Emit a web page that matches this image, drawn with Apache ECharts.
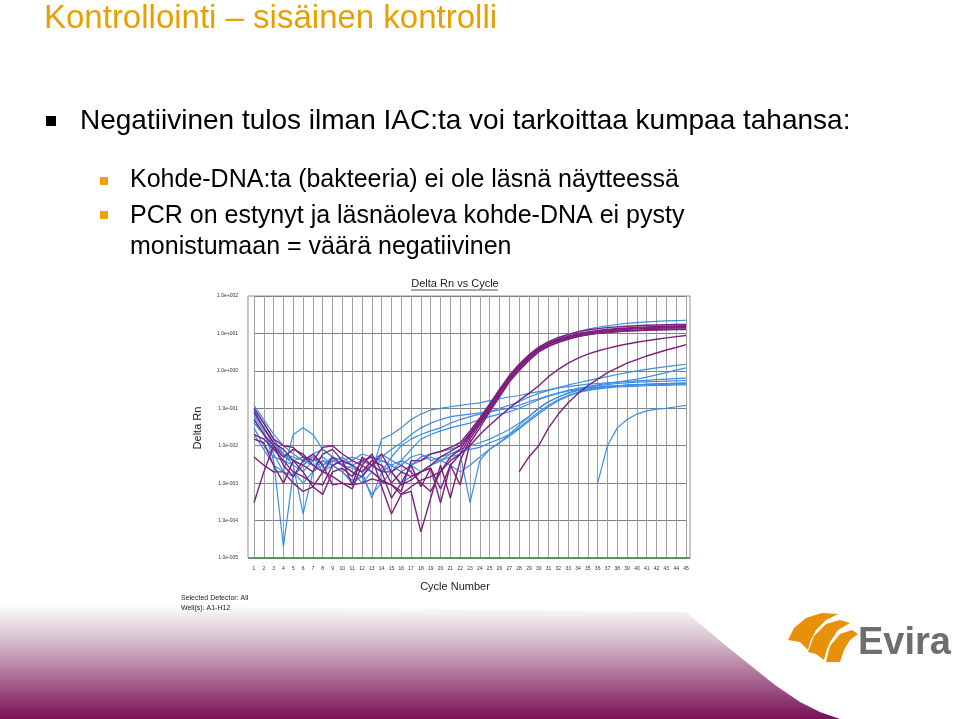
<!DOCTYPE html>
<html><head><meta charset="utf-8">
<script src="https://cdn.jsdelivr.net/npm/echarts@6/dist/echarts.min.js"></script>
<style>html,body{margin:0;padding:0;background:#fff}#c{width:960px;height:719px}</style>
</head><body><div id="c"></div>
<script>
const cycles = Array.from({length:45},(_,i)=>i+1);
const yTicks = ['1.0e+002','1.0e+001','1.0e+000','1.0e-001','1.0e-002','1.0e-003','1.0e-004','1.0e-005'];
const purple1 = [0.08,0.03,0.012,0.008,0.004,0.003,0.002,0.006,0.008,0.004,0.003,0.002,0.004,0.003,0.001,0.002,0.0015,0.002,0.003,0.005,0.007,0.01,0.022,0.05,0.12,0.3,0.7,1.4,2.5,4,5.5,7,8.5,10,11,12,12.8,13.5,14,14.5,15,15.3,15.6,15.8,16];
const purple2 = [0.1,0.04,0.015,0.01,0.009,0.005,0.004,0.009,0.01,0.006,0.004,0.003,0.006,0.002,0.002,0.003,0.002,0.001,0.0006,0.002,0.005,0.008,0.02,0.045,0.11,0.27,0.65,1.3,2.3,3.8,5.2,6.6,8,9.4,10.5,11.4,12.2,12.9,13.4,13.9,14.3,14.6,14.9,15.1,15.3];
const purple3 = [0.02,0.015,0.008,0.004,0.002,0.0015,0.001,0.0009,0.003,0.004,0.0009,0.005,0.003,0.002,0.0004,0.001,0.003,0.0008,0.0025,0.0007,0.003,0.006,0.018,0.04,0.1,0.25,0.6,1.2,2.2,3.6,5,6.4,7.8,9.1,10.2,11,11.7,12.3,12.8,13.2,13.5,13.8,14,14.2,14.4];
const purple4 = [0.015,0.012,0.003,0.001,0.004,0.002,0.0008,0.0005,0.002,0.0025,0.0015,0.004,0.005,0.0008,0.00015,0.0005,0.0006,0.00005,0.0004,0.003,0.0004,0.004,0.015,0.036,0.09,0.22,0.55,1.1,2,3.3,4.6,5.9,7.2,8.4,9.4,10.2,10.9,11.4,11.8,12.2,12.5,12.7,12.9,13.1,13.2];
const purple5 = [0.0003,0.002,0.01,0.005,0.008,0.006,0.003,0.002,0.005,0.003,0.002,0.0015,0.003,0.006,0.002,0.0009,0.0012,0.002,0.0025,0.0003,0.003,0.0009,0.012,0.03,0.08,0.2,0.5,1,1.9,3.2,4.5,5.8,7,8.2,9.2,10,10.6,11.1,11.5,11.8,12.1,12.3,12.5,12.6,12.7];
const purple6 = [0.05,0.02,0.01,0.003,0.0015,0.004,0.006,0.003,0.0009,0.001,0.0007,0.003,0.002,0.0012,0.0009,0.0006,0.004,0.004,0.006,0.007,0.009,0.012,0.025,0.055,0.13,0.32,0.75,1.5,2.7,4.3,6,7.8,9.4,11,12.3,13.4,14.3,15,15.6,16.1,16.5,16.8,17.1,17.3,17.5];
const purpleLate = ['-','-','-','-','-','-','-','-','-','-','-','-','-','-','-','-','-','-','-','-','-','-','-','-','-','-','-',0.002,0.005,0.01,0.03,0.07,0.14,0.25,0.4,0.6,0.9,1.2,1.6,2,2.5,3,3.6,4.2,5];
const purpleMid = [0.005,0.003,0.002,0.002,0.001,0.0006,0.0008,0.002,0.0015,0.001,0.0009,0.001,0.0013,0.0011,0.0009,0.0005,0.0008,0.0012,0.0015,0.002,0.004,0.006,0.01,0.02,0.035,0.06,0.1,0.16,0.25,0.4,0.7,1.1,1.6,2.2,2.8,3.4,4,4.6,5.2,5.8,6.4,7,7.6,8.2,8.8];
const blue1 = [0.1,0.04,0.015,0.006,0.003,0.002,0.004,0.005,0.003,0.002,0.0012,0.0015,0.004,0.006,0.004,0.003,0.005,0.006,0.004,0.005,0.006,0.007,0.008,0.009,0.012,0.015,0.02,0.03,0.05,0.08,0.12,0.17,0.22,0.27,0.31,0.34,0.37,0.39,0.41,0.42,0.43,0.44,0.45,0.46,0.46];
const blue2 = [0.12,0.05,0.02,0.01,0.006,0.004,0.005,0.003,0.004,0.003,0.0025,0.002,0.003,0.004,0.003,0.002,0.003,0.004,0.005,0.004,0.006,0.008,0.01,0.012,0.015,0.02,0.027,0.04,0.06,0.1,0.15,0.2,0.26,0.31,0.36,0.4,0.43,0.46,0.48,0.5,0.51,0.52,0.53,0.54,0.55];
const blue3 = [0.04,0.02,0.006,0.002,0.02,0.03,0.02,0.008,0.005,0.003,0.002,0.001,0.002,0.015,0.02,0.03,0.05,0.07,0.09,0.1,0.11,0.12,0.13,0.14,0.16,0.18,0.2,0.22,0.25,0.28,0.31,0.35,0.38,0.41,0.44,0.46,0.48,0.5,0.52,0.54,0.56,0.58,0.6,0.62,0.64];
const blue4 = [0.06,0.025,0.004,0.00002,0.002,0.001,0.002,0.004,0.003,0.002,0.001,0.0015,0.0005,0.001,0.002,0.004,0.008,0.015,0.02,0.025,0.03,0.035,0.04,0.05,0.06,0.07,0.08,0.1,0.13,0.17,0.21,0.25,0.29,0.32,0.35,0.37,0.39,0.4,0.41,0.42,0.43,0.44,0.44,0.45,0.45];
const blue5 = [0.03,0.01,0.005,0.004,0.003,0.00015,0.002,0.003,0.005,0.004,0.003,0.002,0.004,0.003,0.002,0.001,0.0015,0.002,0.003,0.004,0.003,0.002,0.003,0.005,0.008,0.012,0.02,0.035,0.06,0.1,0.15,0.2,0.25,0.3,0.33,0.36,0.38,0.4,0.42,0.43,0.44,0.45,0.46,0.47,0.48];
const blue6 = [0.02,0.008,0.003,0.002,0.0015,0.003,0.005,0.002,0.004,0.005,0.003,0.002,0.0004,0.002,0.005,0.01,0.015,0.02,0.025,0.03,0.04,0.05,0.06,0.07,0.08,0.1,0.12,0.15,0.2,0.25,0.3,0.36,0.42,0.48,0.55,0.62,0.7,0.8,0.9,1,1.1,1.2,1.3,1.4,1.5];
const blue7 = [0.07,0.03,0.01,0.006,0.004,0.003,0.006,0.008,0.005,0.003,0.004,0.006,0.005,0.004,0.003,0.002,0.003,0.002,0.003,0.004,0.005,0.006,0.0003,0.004,0.008,0.012,0.018,0.028,0.045,0.07,0.11,0.16,0.21,0.26,0.3,0.33,0.35,0.37,0.38,0.39,0.4,0.41,0.41,0.42,0.42];
const blue8 = [0.05,0.02,0.008,0.005,0.004,0.005,0.003,0.002,0.003,0.004,0.005,0.004,0.003,0.005,0.008,0.012,0.02,0.03,0.04,0.05,0.06,0.065,0.07,0.075,0.08,0.09,0.1,0.12,0.15,0.18,0.22,0.26,0.3,0.34,0.38,0.42,0.46,0.5,0.55,0.6,0.68,0.78,0.9,1.05,1.2];
const blueTop = [0.09,0.03,0.012,0.006,0.005,0.004,0.003,0.004,0.003,0.002,0.003,0.004,0.003,0.002,0.003,0.004,0.003,0.005,0.006,0.007,0.008,0.01,0.02,0.045,0.11,0.28,0.65,1.3,2.4,3.9,5.6,7.4,9.3,11.2,13,14.6,16,17.3,18.5,19.5,20.3,21,21.6,22.1,22.5];
const blueLate = ['-','-','-','-','-','-','-','-','-','-','-','-','-','-','-','-','-','-','-','-','-','-','-','-','-','-','-','-','-','-','-','-','-','-','-',0.001,0.01,0.03,0.05,0.07,0.085,0.095,0.1,0.11,0.12];
const purpleSets = [purple1,purple2,purple3,purple4,purple5,purple6,purpleLate,purpleMid];
const blueSets = [blue1,blue2,blue3,blue4,blue5,blue6,blue7,blue8,blueTop,blueLate];

const chart = echarts.init(document.getElementById('c'));
const series = [];
blueSets.forEach(d=>series.push({type:'line',data:d.map((v,i)=>[cycles[i],v]),showSymbol:false,lineStyle:{color:'#3a8ee6',width:1.2},z:2}));
purpleSets.forEach(d=>series.push({type:'line',data:d.map((v,i)=>[cycles[i],v]),showSymbol:false,lineStyle:{color:'#7d1f7d',width:1.4},z:3}));
const F='"Liberation Sans", Arial, sans-serif';
const T=(x,y,text,size,fill,extra)=>({type:'text',x:x,y:y,style:Object.assign({text:text,fontSize:size,fill:fill,fontFamily:F},extra||{})});
const OR='#e8900a';
chart.setOption({
  animation:false,
  grid:{left:254,top:296,width:432,height:262},
  xAxis:{type:'value',min:1,max:45,interval:1,axisLine:{show:false},axisTick:{show:false},
    axisLabel:{fontSize:5,color:'#333',margin:8,fontFamily:F},splitLine:{lineStyle:{color:'#a0a0a0',width:1}}},
  yAxis:{type:'log',logBase:10,min:1e-5,max:100,axisLine:{show:false},axisTick:{show:false},
    axisLabel:{fontSize:5,color:'#333',margin:16,fontFamily:F,formatter:v=>yTicks[Math.round(2-Math.log10(v))]},
    splitLine:{lineStyle:{color:'#808080',width:1}}},
  series:series,
  graphic:[
    {type:'polygon',shape:{points:[[0,604],[686,612],[705,628],[725,645],[750,665],[775,685],[800,702],[820,712],[840,719],[0,719]]},
      style:{fill:{type:'linear',x:0,y:0,x2:0,y2:1,colorStops:[{offset:0,color:'#ffffff'},{offset:0.3,color:'#d8c3d0'},{offset:1,color:'#7a0f55'}]}},z:-1},
    {type:'rect',shape:{x:248,y:296,width:442,height:262},style:{fill:'none',stroke:'#909090',lineWidth:1},z:0,silent:true},
    {type:'line',shape:{x1:248,y1:558,x2:690,y2:558},style:{stroke:'#4a8a4a',lineWidth:1.5},z:10},
    T(44,2,'Kontrollointi – sisäinen kontrolli',33,'#e8a000'),
    {type:'rect',shape:{x:46,y:116,width:10,height:10},style:{fill:'#000'}},
    T(80,107,'Negatiivinen tulos ilman IAC:ta voi tarkoittaa kumpaa tahansa:',28,'#000'),
    {type:'rect',shape:{x:100,y:177,width:8,height:8},style:{fill:'#f0a000'}},
    T(130,168,'Kohde-DNA:ta (bakteeria) ei ole läsnä näytteessä',25,'#000'),
    {type:'rect',shape:{x:100,y:211,width:8,height:8},style:{fill:'#f0a000'}},
    T(130,201,'PCR on estynyt ja läsnäoleva kohde-DNA ei pysty\nmonistumaan = väärä negatiivinen',25,'#000',{lineHeight:31}),
    T(455,278,'Delta Rn vs Cycle',11,'#222',{align:'center'}),
    {type:'line',shape:{x1:411,y1:290,x2:498,y2:290},style:{stroke:'#222',lineWidth:0.8}},
    T(455,581,'Cycle Number',11,'#222',{align:'center'}),
    {type:'text',x:198,y:428,rotation:Math.PI/2,style:{text:'Delta Rn',fontSize:11,fill:'#222',align:'center',verticalAlign:'middle',fontFamily:F}},
    T(181,593,'Selected Detector: All\nWell(s): A1-H12',7,'#222',{lineHeight:10}),
    {type:'polygon',shape:{points:[[788,640],[794,628],[806,618],[822,613],[838,614],[826,620],[816,630],[810,642],[808,650],[800,642]]},style:{fill:OR}},
    {type:'polygon',shape:{points:[[808,652],[814,636],[826,624],[840,620],[850,623],[838,630],[830,642],[826,652],[824,660],[816,654]]},style:{fill:OR}},
    {type:'polygon',shape:{points:[[826,662],[830,646],[840,634],[852,630],[858,634],[850,640],[844,650],[840,662]]},style:{fill:OR}},
    T(858,625,'Evira',38,'#6e6e6e',{fontWeight:'bold'})
  ]
});
</script></body></html>
